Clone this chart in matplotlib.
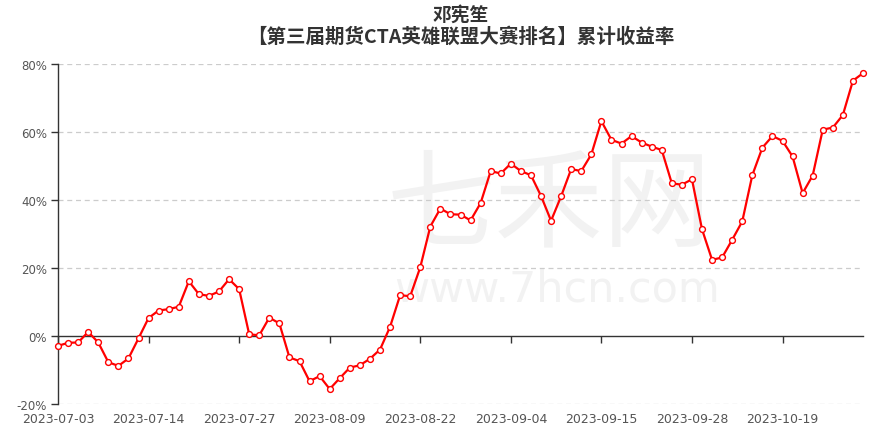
import numpy as np
import pandas as pd
import matplotlib
matplotlib.use('Agg')
import matplotlib.pyplot as plt

plt.rcParams['font.family'] = ['Noto Sans CJK SC', 'DejaVu Sans']

# trading days 2023-07-03 .. 2023-10-31 (National Day holiday removed)
holidays = ['2023-09-29', '2023-10-02', '2023-10-03', '2023-10-04', '2023-10-05', '2023-10-06']
dates = pd.bdate_range('2023-07-03', '2023-10-31', freq='C', holidays=holidays)
labels = [d.strftime('%Y-%m-%d') for d in dates]

# cumulative return in %
returns = [-2.9, -2.0, -1.9, 1.2, -1.9, -7.7, -8.8, -6.6, -0.7, 5.3,
           7.5, 7.9, 8.6, 16.1, 12.3, 11.8, 13.1, 16.7, 13.8, 0.5,
           0.2, 5.4, 3.7, -6.3, -7.4, -13.3, -11.8, -15.6, -12.4, -9.3,
           -8.6, -6.7, -4.0, 2.7, 12.0, 11.7, 20.2, 32.2, 37.5, 35.8,
           35.7, 34.0, 39.1, 48.5, 47.8, 50.7, 48.5, 47.3, 41.2, 33.9,
           41.1, 49.1, 48.5, 53.4, 63.2, 57.7, 56.6, 58.8, 56.9, 55.7,
           54.7, 44.9, 44.5, 46.1, 31.4, 22.4, 23.1, 28.3, 33.7, 47.3,
           55.4, 58.8, 57.4, 52.8, 42.0, 47.2, 60.7, 61.3, 65.0, 75.1,
           77.3]

yticks = [-20, 0, 20, 40, 60, 80]
tick_step = 9

W, H = 883, 431
fig = plt.figure(figsize=(W / 100, H / 100), dpi=100)
ax = fig.add_axes([58 / W, 1 - 405 / H, (863 - 58) / W, (405 - 65) / H])

x = np.arange(len(returns))

# watermark
ax.text(0.61, 0.58, '七禾网', transform=ax.transAxes, fontsize=78, color='#f2f2f2',
        ha='center', va='center', zorder=0)
ax.text(0.62, 0.34, 'www.7hcn.com', transform=ax.transAxes, fontsize=31, color='#f2f2f2',
        family='DejaVu Sans', ha='center', va='center', zorder=0)

ax.plot(x, returns, color='#ff0000', lw=1.6, marker='o', markersize=4.2,
        markerfacecolor='white', markeredgecolor='#ff0000', markeredgewidth=1.0,
        zorder=3, clip_on=False)

ax.set_xlim(0, len(returns) - 1)
ax.set_ylim(-20, 80)

ax.set_yticks(yticks)
ax.set_yticklabels([f'{v}%' for v in yticks], family='DejaVu Sans')
ax.tick_params(axis='y', length=5, width=1, color='#333333', labelcolor='#555555',
               labelsize=8.5, pad=3)
for v in yticks:
    if v != 0:
        ax.axhline(v, color='#cccccc', lw=0.9, ls=(0, (4, 3)), zorder=1)

for s in ['top', 'right', 'bottom']:
    ax.spines[s].set_visible(False)
ax.spines['left'].set_color('#333333')
ax.spines['left'].set_linewidth(1)

ticks = x[::tick_step]
ax.set_xticks(ticks)
ax.set_xticklabels([labels[i] for i in ticks], family='DejaVu Sans')
ax.tick_params(axis='x', length=0, labelcolor='#555555', labelsize=9, pad=6)

# axis line on zero with ticks
zero = ax.secondary_xaxis(0.2)
zero.set_xticks(ticks)
zero.set_xticklabels([])
zero.tick_params(axis='x', length=5, width=1, color='#333333')
zero.spines['bottom'].set_color('#333333')
zero.spines['bottom'].set_linewidth(1)

fig.text(461 / W, 1 - 15 / H, '邓宪笙', ha='center', va='center',
         fontsize=13.5, fontweight='bold', color='#333333')
fig.text(461 / W, 1 - 37 / H, '【第三届期货CTA英雄联盟大赛排名】累计收益率', ha='center', va='center',
         fontsize=14, fontweight='bold', color='#333333')

fig.savefig('out.png', dpi=100)
